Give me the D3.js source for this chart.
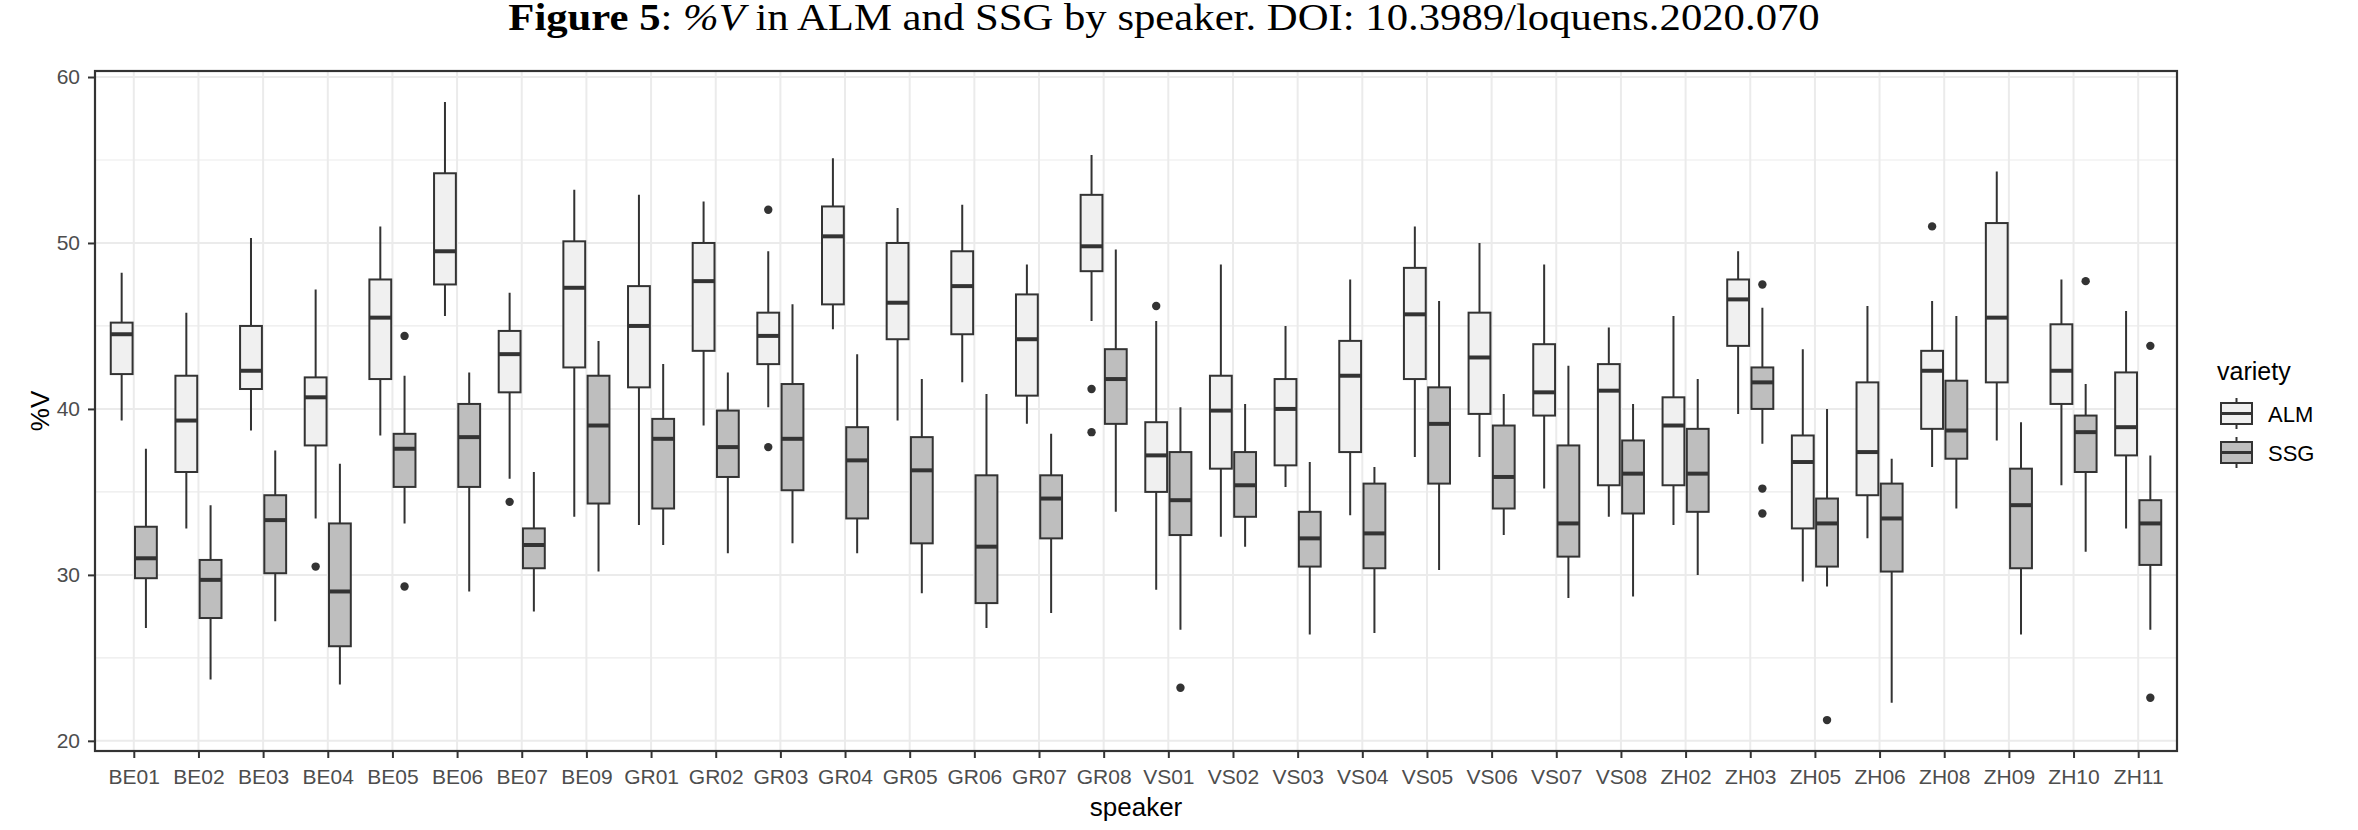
<!DOCTYPE html>
<html>
<head>
<meta charset="utf-8">
<script src="https://cdn.jsdelivr.net/npm/d3@7"></script>
<style>
    body { margin: 0; background: #fff; }
    svg { display: block; }
</style>
</head>
<body>
<svg width="2358" height="830"></svg>
<script>
const speakers = ['BE01', 'BE02', 'BE03', 'BE04', 'BE05', 'BE06', 'BE07', 'BE09',
    'GR01', 'GR02', 'GR03', 'GR04', 'GR05', 'GR06', 'GR07', 'GR08',
    'VS01', 'VS02', 'VS03', 'VS04', 'VS05', 'VS06', 'VS07', 'VS08',
    'ZH02', 'ZH03', 'ZH05', 'ZH06', 'ZH08', 'ZH09', 'ZH10', 'ZH11'];

const varieties = ['ALM', 'SSG'];

// [lower whisker, Q1, median, Q3, upper whisker], one per speaker
const almBoxes = [
    [39.3, 42.1, 44.5, 45.2, 48.2], [32.8, 36.2, 39.3, 42.0, 45.8],
    [38.7, 41.2, 42.3, 45.0, 50.3], [33.4, 37.8, 40.7, 41.9, 47.2],
    [38.4, 41.8, 45.5, 47.8, 51.0], [45.6, 47.5, 49.5, 54.2, 58.5],
    [35.8, 41.0, 43.3, 44.7, 47.0], [33.5, 42.5, 47.3, 50.1, 53.2],
    [33.0, 41.3, 45.0, 47.4, 52.9], [39.0, 43.5, 47.7, 50.0, 52.5],
    [40.1, 42.7, 44.4, 45.8, 49.5], [44.8, 46.3, 50.4, 52.2, 55.1],
    [39.3, 44.2, 46.4, 50.0, 52.1], [41.6, 44.5, 47.4, 49.5, 52.3],
    [39.1, 40.8, 44.2, 46.9, 48.7], [45.3, 48.3, 49.8, 52.9, 55.3],
    [29.1, 35.0, 37.2, 39.2, 45.3], [32.3, 36.4, 39.9, 42.0, 48.7],
    [35.3, 36.6, 40.0, 41.8, 45.0], [33.6, 37.4, 42.0, 44.1, 47.8],
    [37.1, 41.8, 45.7, 48.5, 51.0], [37.1, 39.7, 43.1, 45.8, 50.0],
    [35.2, 39.6, 41.0, 43.9, 48.7], [33.5, 35.4, 41.1, 42.7, 44.9],
    [33.0, 35.4, 39.0, 40.7, 45.6], [39.7, 43.8, 46.6, 47.8, 49.5],
    [29.6, 32.8, 36.8, 38.4, 43.6], [32.2, 34.8, 37.4, 41.6, 46.2],
    [36.5, 38.8, 42.3, 43.5, 46.5], [38.1, 41.6, 45.5, 51.2, 54.3],
    [35.4, 40.3, 42.3, 45.1, 47.8], [32.8, 37.2, 38.9, 42.2, 45.9]
];

const ssgBoxes = [
    [26.8, 29.8, 31.0, 32.9, 37.6], [23.7, 27.4, 29.7, 30.9, 34.2],
    [27.2, 30.1, 33.3, 34.8, 37.5], [23.4, 25.7, 29.0, 33.1, 36.7],
    [33.1, 35.3, 37.6, 38.5, 42.0], [29.0, 35.3, 38.3, 40.3, 42.2],
    [27.8, 30.4, 31.8, 32.8, 36.2], [30.2, 34.3, 39.0, 42.0, 44.1],
    [31.8, 34.0, 38.2, 39.4, 42.7], [31.3, 35.9, 37.7, 39.9, 42.2],
    [31.9, 35.1, 38.2, 41.5, 46.3], [31.3, 33.4, 36.9, 38.9, 43.3],
    [28.9, 31.9, 36.3, 38.3, 41.8], [26.8, 28.3, 31.7, 36.0, 40.9],
    [27.7, 32.2, 34.6, 36.0, 38.5], [33.8, 39.1, 41.8, 43.6, 49.6],
    [26.7, 32.4, 34.5, 37.4, 40.1], [31.7, 33.5, 35.4, 37.4, 40.3],
    [26.4, 30.5, 32.2, 33.8, 36.8], [26.5, 30.4, 32.5, 35.5, 36.5],
    [30.3, 35.5, 39.1, 41.3, 46.5], [32.4, 34.0, 35.9, 39.0, 40.9],
    [28.6, 31.1, 33.1, 37.8, 42.6], [28.7, 33.7, 36.1, 38.1, 40.3],
    [30.0, 33.8, 36.1, 38.8, 41.8], [37.9, 40.0, 41.6, 42.5, 46.1],
    [29.3, 30.5, 33.1, 34.6, 40.0], [22.3, 30.2, 33.4, 35.5, 37.0],
    [34.0, 37.0, 38.7, 41.7, 45.6], [26.4, 30.4, 34.2, 36.4, 39.2],
    [31.4, 36.2, 38.6, 39.6, 41.5], [26.7, 30.6, 33.1, 34.5, 37.2]
];

const almOutliers = [
    ['BE04', 30.5], ['BE07', 34.4], ['GR03', 52.0], ['GR03', 37.7],
    ['GR08', 41.2], ['GR08', 38.6], ['VS01', 46.2], ['ZH08', 51.0]
];

const ssgOutliers = [
    ['BE05', 44.4], ['BE05', 29.3], ['VS01', 23.2], ['ZH03', 47.5],
    ['ZH03', 35.2], ['ZH03', 33.7], ['ZH05', 21.25], ['ZH10', 47.7],
    ['ZH11', 43.8], ['ZH11', 22.6]
];

const yTicks = [20, 30, 40, 50, 60];
const yMinor = [25, 35, 45, 55];

const svg = d3.select('svg');

const panel = { left: 95, right: 2177, top: 71, bottom: 751 };
const fills = { ALM: '#f0f0f0', SSG: '#bebebe' };
const ink = '#333333';
const sans = '"Liberation Sans", Arial, sans-serif';

const series = [
    { variety: 'ALM', boxes: almBoxes, outliers: almOutliers },
    { variety: 'SSG', boxes: ssgBoxes, outliers: ssgOutliers }
];

// y domain: data range plus 5% each side, like ggplot
const allValues = series.flatMap(s => s.boxes.flat().concat(s.outliers.map(o => o[1])));
const [vMin, vMax] = d3.extent(allValues);
const pad = (vMax - vMin) * 0.05;

const x = d3.scalePoint()
    .domain(speakers)
    .range([panel.left, panel.right])
    .padding(0.6);

const y = d3.scaleLinear()
    .domain([vMin - pad, vMax + pad])
    .range([panel.bottom, panel.top]);

const step = x.step();
const boxW = step * 0.75 / 2 * 0.9;
const dodge = d3.scaleBand()
    .domain(varieties)
    .range([-step * 0.375, step * 0.375]);
const offset = v => dodge(v) + dodge.bandwidth() / 2;

// title, stretched a little to the width of the original
const title = svg.append('text')
    .attr('text-anchor', 'middle')
    .style('font-family', '"Liberation Serif", "Times New Roman", serif')
    .style('font-size', '39px')
    .attr('fill', '#000');
title.append('tspan').style('font-weight', 'bold').text('Figure 5');
title.append('tspan').text(': ');
title.append('tspan').style('font-style', 'italic').text('%V');
title.append('tspan').text(' in ALM and SSG by speaker. DOI: 10.3989/loquens.2020.070');
const titleW = title.node().getComputedTextLength();
title.attr('transform', `translate(1164,30) scale(${1312 / titleW},1)`);

// grid
const grid = svg.append('g');
grid.selectAll('.minor')
    .data(yMinor)
    .join('line')
    .attr('x1', panel.left).attr('x2', panel.right)
    .attr('y1', d => y(d)).attr('y2', d => y(d))
    .attr('stroke', '#ebebeb')
    .attr('stroke-width', 1.2);
grid.selectAll('.major')
    .data(yTicks)
    .join('line')
    .attr('x1', panel.left).attr('x2', panel.right)
    .attr('y1', d => y(d)).attr('y2', d => y(d))
    .attr('stroke', '#ebebeb')
    .attr('stroke-width', 2);
grid.selectAll('.vert')
    .data(speakers)
    .join('line')
    .attr('x1', d => x(d)).attr('x2', d => x(d))
    .attr('y1', panel.top).attr('y2', panel.bottom)
    .attr('stroke', '#ebebeb')
    .attr('stroke-width', 2);

// boxes
series.forEach(s => {
    const g = svg.append('g');
    const cx = sp => x(sp) + offset(s.variety);
    const boxes = s.boxes.map((b, i) => ({ speaker: speakers[i], b }));

    g.selectAll('.whisker')
        .data(boxes)
        .join('path')
        .attr('d', d => `M${cx(d.speaker)},${y(d.b[4])}V${y(d.b[3])}M${cx(d.speaker)},${y(d.b[1])}V${y(d.b[0])}`)
        .attr('stroke', ink)
        .attr('stroke-width', 2);

    g.selectAll('rect')
        .data(boxes)
        .join('rect')
        .attr('x', d => cx(d.speaker) - boxW / 2)
        .attr('width', boxW)
        .attr('y', d => y(d.b[3]))
        .attr('height', d => y(d.b[1]) - y(d.b[3]))
        .attr('fill', fills[s.variety])
        .attr('stroke', ink)
        .attr('stroke-width', 2);

    g.selectAll('.median')
        .data(boxes)
        .join('line')
        .attr('x1', d => cx(d.speaker) - boxW / 2)
        .attr('x2', d => cx(d.speaker) + boxW / 2)
        .attr('y1', d => y(d.b[2]))
        .attr('y2', d => y(d.b[2]))
        .attr('stroke', ink)
        .attr('stroke-width', 4);

    g.selectAll('circle')
        .data(s.outliers)
        .join('circle')
        .attr('cx', d => cx(d[0]))
        .attr('cy', d => y(d[1]))
        .attr('r', 4.2)
        .attr('fill', ink);
});

// panel border
svg.append('rect')
    .attr('x', panel.left)
    .attr('y', panel.top)
    .attr('width', panel.right - panel.left)
    .attr('height', panel.bottom - panel.top)
    .attr('fill', 'none')
    .attr('stroke', ink)
    .attr('stroke-width', 2.2);

// axes
const xAxis = svg.append('g')
    .attr('transform', `translate(0,${panel.bottom})`)
    .call(d3.axisBottom(x).tickSize(7).tickPadding(11));
const yAxis = svg.append('g')
    .attr('transform', `translate(${panel.left},0)`)
    .call(d3.axisLeft(y).tickValues(yTicks).tickSize(7).tickPadding(8));

[xAxis, yAxis].forEach(a => {
    a.select('.domain').remove();
    a.selectAll('.tick line').attr('stroke', ink).attr('stroke-width', 2);
    a.selectAll('.tick text')
        .attr('fill', '#4d4d4d')
        .style('font-family', sans)
        .style('font-size', '21px');
});

svg.append('text')
    .attr('x', (panel.left + panel.right) / 2)
    .attr('y', 816)
    .attr('text-anchor', 'middle')
    .style('font-family', sans)
    .style('font-size', '26px')
    .text('speaker');

svg.append('text')
    .attr('transform', `translate(49,${(panel.top + panel.bottom) / 2}) rotate(-90)`)
    .attr('text-anchor', 'middle')
    .style('font-family', sans)
    .style('font-size', '26px')
    .text('%V');

// legend
const legend = svg.append('g').attr('transform', 'translate(2217,0)');
legend.append('text')
    .attr('x', 0)
    .attr('y', 380)
    .style('font-family', sans)
    .style('font-size', '25px')
    .text('variety');

const keys = legend.selectAll('.key')
    .data(varieties)
    .join('g')
    .attr('transform', (d, i) => `translate(4,${403 + i * 39})`);
keys.append('line')
    .attr('x1', 15.5).attr('x2', 15.5)
    .attr('y1', -5).attr('y2', 26)
    .attr('stroke', ink)
    .attr('stroke-width', 2);
keys.append('rect')
    .attr('width', 31)
    .attr('height', 21)
    .attr('fill', d => fills[d])
    .attr('stroke', ink)
    .attr('stroke-width', 2);
keys.append('line')
    .attr('x1', 0).attr('x2', 31)
    .attr('y1', 10.5).attr('y2', 10.5)
    .attr('stroke', ink)
    .attr('stroke-width', 3);
keys.append('text')
    .attr('x', 47)
    .attr('y', 19)
    .style('font-family', sans)
    .style('font-size', '22px')
    .text(d => d);
</script>
</body>
</html>
